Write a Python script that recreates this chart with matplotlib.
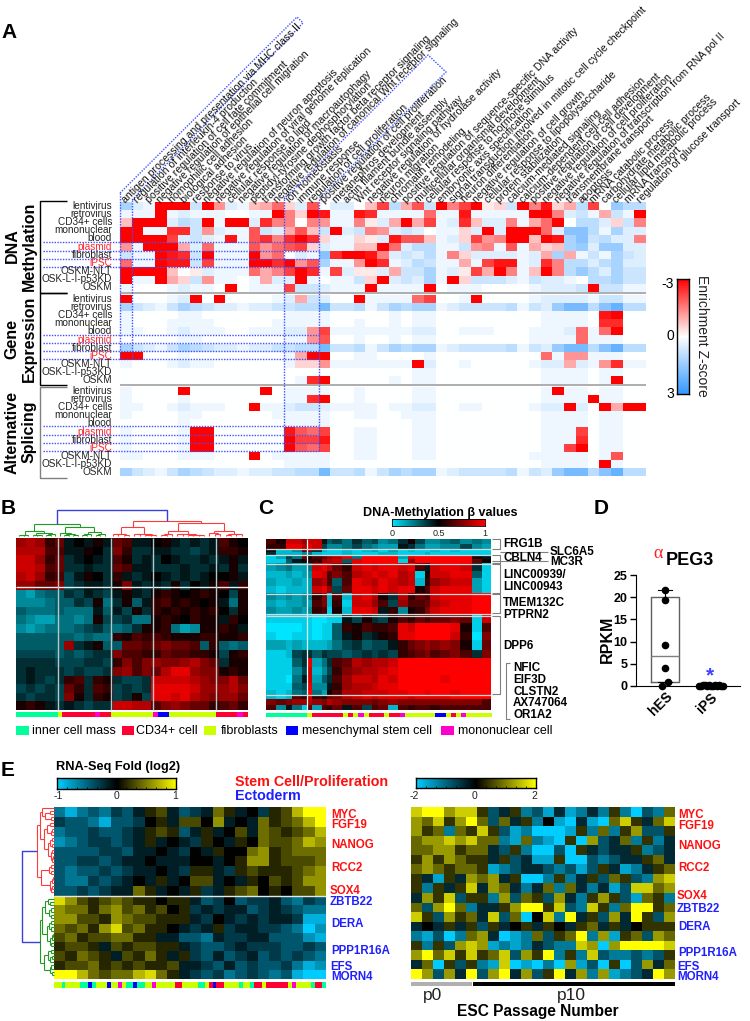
import numpy as np
import matplotlib
matplotlib.use('Agg')
import matplotlib.pyplot as plt
from matplotlib.colors import LinearSegmentedColormap, ListedColormap

plt.rcParams['font.family'] = ['Liberation Sans', 'DejaVu Sans']

W, H = 750, 1021
fig = plt.figure(figsize=(W / 100, H / 100), dpi=100)

# ---------------------------------------------------------------- data
go_terms = ["antigen processing and presentation via MHC class II", "regulation of interleukin-4 production",
            "positive regulation of cell fate commitment", "negative regulation of epithelial cell migration",
            "homophilic cell adhesion", "biological adhesion", "response to virus",
            "negative regulation of neuron apoptosis", "negative regulation of viral genome replication",
            "cellular response to lipid", "negative regulation of macroautophagy",
            "peptidyl-tyrosine dephosphorylation", "transforming growth factor beta receptor signaling",
            "negative regulation of canonical Wnt receptor signaling", "ion homeostasis", "immune response",
            "regulation of cell proliferation", "positive regulation of cell proliferation",
            "metanephros development", "actin filament bundle assembly", "Wnt receptor signaling pathway",
            "negative regulation of hydrolase activity", "neuron migration", "chromatin remodeling",
            "positive regulation of sequence-specific DNA activity", "multicellular organismal development",
            "cellular response to hormone stimulus", "embryonic axis specification",
            "signal transduction involved in mitotic cell cycle checkpoint", "neuron differentiation",
            "negative regulation of cell growth", "cellular response to lipopolysaccharide",
            "protein stabilization", "calcium-mediated signaling", "calcium-dependent cell-cell adhesion",
            "positive regulation of cell development", "negative regulation of cell proliferation",
            "negative regulation of transcription from RNA pol II", "transmembrane transport", "apoptosis",
            "mRNA catabolic process", "carbohydrate metabolic process", "cellular lipid metabolic process",
            "mRNA transport", "regulation of glucose transport"]
row_names = ["lentivirus", "retrovirus", "CD34+ cells", "mononuclear", "blood", "plasmid", "fibroblast",
             "iPSC", "OSKM-NLT", "OSK-L-I-p53KD", "OSKM"]

# enrichment in quarter z-score units: -12 = -3 (red), +12 = +3 (blue)
methylation = [
 [5,2,1,-12,-12,-12,3,-12,-5,2,1,-3,-4,-7,-2,2,-8,0,2,2,0,-3,-9,4,-4,-8,3,-12,-6,-9,-12,-1,-2,3,-12,-6,-11,-2,-4,4,-9,0,6,4,4],
 [1,1,1,-12,1,2,1,1,1,0,0,1,1,-12,-6,-2,-12,-11,1,1,-11,-10,1,1,1,1,-7,1,1,-11,1,1,1,1,1,-12,-12,-6,2,3,1,-4,3,1,-12],
 [-3,-12,-12,-12,2,4,3,-12,1,-12,-12,2,-10,-6,-6,0,-6,-5,1,1,-6,-1,2,-4,-12,-4,-9,1,2,-10,-3,2,2,-6,1,-4,-7,-12,0,4,4,2,-2,3,-6],
 [-12,-12,1,1,-10,-10,3,-5,2,1,1,-8,3,2,-4,-8,-3,3,-12,2,3,-6,-5,2,3,2,0,1,1,-2,2,-12,2,-12,-12,-12,-7,2,7,7,4,1,5,2,2],
 [-12,-12,-12,-12,-9,2,3,2,1,-11,1,-8,-10,-6,-10,-12,-10,-2,1,1,-2,-1,2,-11,-8,-8,-3,1,2,-2,-9,-5,-6,-12,-12,-3,-12,-11,5,7,3,4,2,2,-6],
 [-5,1,-12,-12,-12,-4,2,-7,1,1,1,-8,-5,-7,-8,-9,-2,2,1,1,-3,-3,-12,-7,2,4,4,1,1,3,-5,-6,1,-8,1,-4,-2,-3,5,6,2,6,6,2,2],
 [3,1,1,-12,-11,-10,3,-12,1,1,1,-12,-5,-7,0,2,1,7,-10,-12,-12,-11,-6,2,3,2,4,1,-6,-2,2,2,2,2,1,2,-4,5,-4,1,3,1,5,3,2],
 [-7,1,1,-12,-11,-11,3,-9,1,1,1,-12,-12,-10,-12,-5,-8,5,1,1,-5,-12,-10,1,2,4,3,1,1,-4,1,-9,-11,-11,1,2,-10,-6,4,4,2,4,5,2,2],
 [-12,-12,-12,-12,-3,0,-1,2,1,1,1,-7,-4,-6,-9,-12,-10,1,-9,2,-1,-1,2,-4,3,3,5,1,2,-1,-9,-4,-12,-6,1,-3,-12,-6,4,6,4,2,5,3,3],
 [-12,1,1,-12,-4,-2,3,-5,1,1,0,1,-4,2,2,-12,1,0,1,1,3,-2,-12,2,3,2,5,1,-12,-2,3,3,3,2,1,3,2,2,1,0,4,4,5,3,3],
 [1,0,0,0,1,2,1,1,0,-12,0,1,1,1,-9,3,3,2,1,1,1,-12,1,1,1,1,-12,0,1,1,1,0,0,0,0,1,2,2,2,3,-12,3,3,1,1],
]
expression = [
 [-12,0,0,0,1,2,-12,0,-12,0,0,0,0,1,2,-4,3,2,0,0,-12,1,1,1,1,-7,-9,0,0,1,-12,0,0,0,0,1,2,2,2,2,1,3,3,1,1],
 [5,3,2,1,3,5,4,3,2,2,1,2,2,3,3,4,4,8,3,3,4,1,3,5,4,5,5,1,2,3,3,3,3,4,1,3,2,6,8,8,4,7,9,4,4],
 [1,0,0,0,0,1,1,0,0,0,0,0,0,0,1,1,1,1,0,0,0,0,0,1,0,1,1,0,0,0,0,0,0,0,0,0,1,1,1,1,0,-11,-12,0,0],
 [1,0,0,0,1,1,1,1,0,0,0,0,0,1,1,1,1,1,0,0,1,0,0,1,0,1,1,0,0,0,0,0,0,0,0,0,1,1,1,1,0,-10,-10,0,0],
 [1,1,0,0,1,2,1,1,1,0,0,1,1,1,2,2,-5,-9,1,1,1,1,1,1,1,2,2,0,0,1,1,1,0,0,0,1,1,1,2,-7,1,-7,-12,0,0],
 [0,0,0,0,0,1,1,0,0,0,0,0,0,0,1,1,-5,-8,0,0,1,0,0,1,0,1,1,0,0,0,0,0,0,0,0,1,1,1,1,-7,1,1,1,0,0],
 [5,3,2,1,3,5,4,3,2,2,1,2,2,3,3,4,4,8,3,3,4,1,3,5,4,5,5,1,2,3,3,3,3,4,1,3,2,6,8,8,4,7,9,4,4],
 [-12,-12,0,0,0,1,0,0,0,0,0,0,0,0,1,-4,-12,-12,0,0,1,1,0,0,0,0,1,0,0,0,0,0,0,0,0,0,-7,1,-5,-5,1,1,1,0,0],
 [1,0,0,0,1,2,1,1,0,0,0,0,0,0,1,-2,-2,-5,1,1,1,1,1,1,1,-12,2,0,0,1,0,0,0,0,0,1,2,2,-4,2,1,-5,-10,1,1],
 [0,0,0,0,0,0,0,0,0,0,0,0,0,0,0,0,0,0,0,0,0,0,0,0,0,1,1,0,0,0,0,0,0,0,0,0,1,1,1,1,0,1,1,0,0],
 [0,0,0,0,0,0,0,0,0,0,0,0,0,0,0,1,-10,-12,0,0,0,0,0,1,0,1,1,0,0,0,0,0,0,0,0,0,1,1,1,1,0,1,-12,0,0],
]
splicing = [
 [1,0,0,0,0,-12,0,0,0,0,0,0,-12,0,1,1,1,1,0,0,1,0,0,0,0,1,1,0,0,0,0,0,0,0,0,0,1,-12,1,1,0,1,1,0,0],
 [1,0,0,0,0,1,0,0,0,0,0,0,0,0,1,1,-10,-12,0,0,1,0,0,0,0,1,1,0,0,0,0,0,0,0,0,0,1,1,1,1,-12,1,1,0,0],
 [1,1,0,0,1,2,1,1,1,0,0,-12,1,1,2,3,3,2,1,1,1,1,0,1,1,2,2,0,0,1,1,0,0,0,0,1,2,2,-12,2,0,-12,-4,-12,-12],
 [1,0,0,0,0,1,1,0,0,0,0,0,0,1,1,1,1,1,0,0,1,1,0,0,1,1,1,0,0,0,0,0,0,0,0,0,1,1,1,1,0,1,1,0,0],
 [0,0,0,0,0,1,0,0,0,0,0,0,0,0,1,1,1,1,0,0,0,0,0,0,0,1,1,0,0,0,0,0,0,0,0,0,1,1,1,1,0,1,1,0,0],
 [1,0,0,0,0,1,-12,-12,0,0,0,0,0,0,-11,-8,-7,-9,0,0,1,1,0,0,0,1,1,0,0,0,0,0,0,0,0,0,1,1,1,-9,0,1,1,0,0],
 [1,0,0,0,0,1,-12,-12,0,0,0,0,0,0,-12,-9,-9,-11,0,0,1,1,0,0,0,1,1,0,0,0,0,0,0,0,0,0,1,1,1,-10,0,1,1,0,0],
 [1,0,0,0,0,1,-12,-12,0,0,0,0,0,0,-12,-8,-7,-9,0,0,1,1,0,0,0,1,1,0,0,0,0,0,0,0,0,0,1,1,-9,-12,0,1,1,0,0],
 [1,1,0,0,0,1,1,1,0,0,0,-12,0,1,1,1,1,1,0,0,1,1,0,0,0,1,1,0,0,0,0,0,0,0,0,1,1,1,1,1,0,1,-8,0,0],
 [0,0,0,0,0,0,0,0,0,0,0,0,0,0,1,1,1,1,0,0,0,0,0,0,0,0,0,0,0,0,0,0,0,0,0,0,1,1,1,1,0,-12,1,0,0],
 [5,3,2,1,3,5,4,3,2,2,1,2,2,3,3,4,4,8,3,3,4,1,3,5,4,5,5,1,2,3,3,3,3,4,1,3,2,6,8,8,4,7,9,4,4],
]

# panel B: beta value offset in tenths, -10 = cyan, 0 = black, 10 = red
panel_b = [
 [6,7,6,2,4,-1,0,-1,1,-1,4,3,-1,-1,0,1,-1,-2,-1,-2,-1,3,1,0],
 [7,7,7,3,3,-1,-1,1,0,-2,5,2,-2,-2,-1,-1,-2,-2,-3,-2,-1,2,2,1],
 [8,8,6,2,4,-2,-1,0,-1,-2,3,1,-2,-1,-2,0,-1,-2,-2,-1,-2,-1,1,-1],
 [8,8,7,3,4,-2,-2,-1,-2,-2,4,3,-1,-1,-2,-2,-2,-1,-2,-2,-1,-2,1,-2],
 [7,8,6,2,3,-3,-1,1,0,-2,2,-1,-2,-1,0,-1,-2,-1,-2,-1,0,0,1,-1],
 [6,6,4,4,5,-3,-2,-1,-1,-2,1,5,-1,-2,-1,-2,1,-2,0,-1,1,3,-1,2],
 [-6,-7,-5,-4,-4,-2,-3,-1,-2,-3,-1,1,-1,-2,1,2,1,0,1,2,1,0,-3,1],
 [-6,-6,-6,-5,-4,-4,-2,-3,1,-5,-2,1,-4,-1,2,3,1,2,1,0,1,-1,-5,1],
 [-4,-5,-5,-5,-4,-5,-5,-5,-1,-4,-1,-3,1,-2,2,1,2,1,2,1,2,0,-2,1],
 [-5,-6,-7,-7,-5,-5,-6,-5,1,-3,-3,-2,-5,-5,1,2,1,0,2,1,1,-1,2,0],
 [-6,-7,-6,-5,-5,-5,-4,-3,-2,-4,-5,-4,-2,1,1,2,-5,-7,-6,1,1,2,1,-1],
 [-4,-4,-4,-4,-4,-4,-5,-4,-5,-5,2,1,3,2,3,2,1,1,1,2,2,1,1,2],
 [-4,-4,-4,-4,-4,6,-2,-1,1,-4,-4,4,4,3,4,5,4,4,3,-4,2,-4,-5,-4],
 [-3,-3,-3,-3,-4,-3,-4,-3,-2,-2,5,3,3,2,2,4,3,3,2,2,1,-3,1,2],
 [-2,-2,-2,-2,-3,-3,-3,-2,-2,-3,2,5,3,5,6,5,5,6,7,5,4,-2,1,1],
 [-2,-1,-2,-2,-2,-3,-2,-3,-3,-2,5,6,3,5,4,7,9,9,6,5,5,1,2,1],
 [-2,-1,-2,-3,-2,2,3,-2,2,1,-2,-3,-3,-2,8,8,8,8,7,6,5,5,7,4],
 [-3,-2,-3,-2,-3,4,2,-2,3,2,-3,-2,-3,-2,9,9,9,9,8,6,6,6,7,5],
 [-2,-3,-2,-2,-3,5,1,-2,2,1,-3,-2,1,-3,9,9,8,9,7,6,5,6,6,4],
 [1,2,1,-1,-2,-1,-2,-3,-2,-2,8,8,7,7,3,5,6,5,4,4,2,3,4,2],
]

# panel C: same scale
panel_c = [
 [3,1,8,8,6,8,8,-1,-4,-3,-5,-2,-4,-3,-6,-5,-2,1,-3,-6,-6,-5,-4,-6,-5,-6],
 [2,2,9,9,7,9,8,-3,-6,-6,-5,-3,-5,-6,-7,-7,-1,-2,-5,-7,-7,-6,-6,-3,-6,-7],
 [-1,-8,-8,-6,4,5,-2,-8,-9,-9,-8,-9,-8,-7,-9,-7,-9,-8,-9,-9,-8,-9,-8,-9,-9,-9],
 [-2,-8,-8,-8,-6,-5,-8,-9,-9,-9,-8,-9,-9,-9,-8,-8,-9,-9,-9,-8,-9,-9,-9,-9,-9,-9],
 [-9,-7,-3,-5,4,1,3,4,6,7,9,-5,10,10,10,10,-7,9,10,10,10,10,10,10,1,-1],
 [-9,-9,-4,-1,1,2,2,6,7,8,-4,9,10,10,10,10,-9,6,10,10,10,10,10,10,4,1],
 [-7,-6,-5,-7,-7,-5,8,9,7,4,2,8,9,8,9,9,8,9,3,-1,8,9,9,8,-2,-9],
 [-8,-8,-7,-8,-7,-6,9,8,3,5,3,7,8,9,8,9,7,8,-9,1,8,8,9,9,-4,-9],
 [-7,-8,-8,-7,-8,-7,6,7,3,-4,3,9,8,7,9,8,7,8,-8,2,6,7,8,8,-7,-9],
 [-8,-9,-8,-8,-8,-7,8,9,6,-3,4,9,9,8,9,8,9,9,1,3,8,9,9,9,-7,-9],
 [-6,-7,-6,-7,-6,-6,2,5,-8,3,-8,8,9,7,1,-2,7,2,4,3,8,9,9,9,10,10],
 [-7,-8,-7,-7,-6,-7,3,5,-8,2,-9,8,8,6,3,-3,6,3,3,4,7,8,9,9,10,10],
 [-6,-7,-7,-6,-7,-6,2,3,-9,1,-8,9,9,8,-1,2,-6,1,2,5,8,9,9,9,10,10],
 [-9,-9,-9,-9,-9,-9,-10,-10,-9,-9,-1,-3,1,-2,-3,1,3,2,4,3,4,4,5,4,-9,8],
 [-10,-10,-10,-10,-9,-9,-10,-9,-9,-4,2,1,3,2,2,3,9,8,10,10,10,10,9,1,-9,3],
 [-9,-10,-10,-9,-9,-9,-10,-9,-9,-4,-1,1,-2,-1,1,2,9,9,10,10,10,10,8,2,-10,5],
 [-7,-7,-8,-7,-8,-8,-8,-8,-7,-5,-3,-2,-4,-3,-3,-1,2,4,5,6,5,6,5,1,-9,4],
 [-9,-9,-8,-3,-2,-2,-4,-2,-3,-3,-4,-3,-2,-3,-2,-3,2,3,4,5,3,4,5,3,-2,5],
 [-9,-9,-9,-4,-2,9,-7,-5,-2,3,4,7,6,7,7,8,10,10,10,10,10,10,10,10,10,10],
 [-9,-9,-9,-6,-3,8,-8,-6,-3,2,5,6,7,7,8,9,10,10,10,10,10,10,10,10,10,10],
 [-9,-9,-10,-5,-1,8,-7,-4,-2,3,6,8,8,7,9,8,10,10,10,10,10,9,10,10,10,10],
 [-9,-9,-9,-4,-3,9,-6,-6,-1,2,6,7,7,8,9,9,10,10,10,10,10,10,10,10,10,10],
 [-8,-9,-8,-5,-4,10,-5,-7,1,3,7,7,8,8,8,9,9,10,10,9,10,10,9,10,10,10],
 [-8,-9,-8,3,2,8,2,1,4,5,7,8,9,8,9,9,9,8,9,9,9,9,10,10,10,10],
 [5,4,5,6,6,7,6,5,7,6,5,5,5,4,5,6,5,5,5,5,5,5,5,5,5,3],
 [3,-6,-1,-5,-9,4,-7,3,2,4,-1,3,-3,3,4,-8,3,2,3,3,2,3,3,3,3,3],
 [5,3,4,-3,-2,5,4,5,-1,4,4,1,4,3,2,4,3,4,4,3,4,4,3,4,4,4],
]

# panel E left: fold in sevenths, -7 = cyan, 0 = black, 7 = yellow
panel_e1 = [
 [-4,-6,-4,-3,-4,-2,-3,-1,1,2,-1,-3,-2,-1,3,1,-1,0,-2,1,2,5,7,7],
 [-2,-3,-3,-4,-6,-3,-3,-2,0,1,-1,2,2,0,4,-1,0,-1,3,1,2,3,5,7],
 [-4,-3,-3,-2,-3,-3,-2,-1,1,2,1,-3,-1,1,-1,0,2,-1,3,2,1,2,3,5],
 [-5,-4,-3,-2,-2,-3,-2,-1,1,-1,0,-1,-2,1,0,-1,1,0,3,2,2,3,5,4],
 [-3,-3,-3,-3,-2,-2,-3,-1,-1,0,-1,-2,0,-1,1,0,0,3,4,1,2,3,3,3],
 [-3,-3,-2,-2,-3,-2,-1,-1,0,-1,-1,-1,0,0,-1,0,1,4,4,1,2,2,2,3],
 [-3,-4,-3,-3,-2,-3,-2,-1,-1,0,-1,-2,1,1,-1,-2,1,2,1,1,1,2,3,4],
 [-3,-4,-4,-2,-3,-2,-1,0,-1,1,-1,0,2,2,-1,0,-1,1,0,2,1,2,4,4],
 [-3,-3,-2,-3,-2,-1,-1,3,1,-1,0,-1,1,-2,-1,1,2,3,0,1,0,2,2,4],
 [6,4,2,1,2,3,2,1,1,0,1,1,-1,-3,-2,0,-3,-2,-2,-1,-3,-4,-2,-3],
 [4,3,3,1,3,4,2,3,1,2,0,1,-2,-1,-2,-1,-1,-3,-2,-1,-2,-3,-4,-4],
 [4,4,2,2,1,4,3,2,2,1,1,1,-1,-2,0,-1,-2,-1,-2,-1,-1,-2,-6,-6],
 [3,2,3,1,4,6,2,3,1,1,0,-1,-2,-1,1,-2,-1,-1,-2,-2,-3,-4,-7,-5],
 [2,3,1,2,2,3,3,1,1,-1,-1,-3,-3,-4,-1,-2,-2,-1,-1,-3,-3,-3,-5,-6],
 [1,2,2,1,-1,2,1,2,2,1,1,-1,-2,-3,-3,-2,-1,-2,-2,-2,-3,-3,-2,-3],
 [2,1,3,2,1,-1,2,1,3,1,-1,1,-2,-3,-1,-3,-2,-1,-3,-2,-3,-2,-3,-4],
 [1,2,2,3,1,2,1,2,1,1,2,-1,-1,-2,-3,-1,-3,-2,-3,-3,-2,-4,-6,-5],
 [7,7,5,3,2,3,3,5,6,3,1,-1,-2,-3,-2,-4,-3,-2,-3,-4,-3,-6,-7,-7],
]
# panel E right: fold in fifths, -5 = cyan, 0 = black, 5 = yellow
panel_e2 = [
 [4,5,5,3,4,4,1,-2,-1,1,-3,-2,-4,-1,-4,-3,-1,-3,1,-3,-5,-2,-3,2],
 [3,2,4,1,3,5,2,-2,2,-1,1,-3,0,-4,-5,-1,-4,-5,2,4,1,-1,2,4],
 [3,1,2,-3,2,1,4,1,-2,-4,-3,-5,-5,-5,-4,1,-3,2,-3,1,3,-2,-2,1],
 [2,3,3,4,3,4,2,2,-3,-4,2,-3,-4,-5,1,-5,3,-2,-1,2,-3,1,-3,-1],
 [2,2,3,3,1,2,2,-1,-2,1,-3,-5,-5,-2,-5,1,-1,-2,-1,-1,1,-3,-2,-1],
 [1,3,1,3,2,1,1,-1,1,-2,-1,-4,-4,1,-5,-5,-2,-3,-2,-1,-1,1,2,-1],
 [2,3,2,1,2,2,1,-4,-3,-2,-1,-1,-2,-3,-2,-4,-2,1,-1,-4,-3,-1,1,2],
 [1,-1,-4,1,-1,3,2,3,-1,1,-5,-5,-3,1,-3,-1,1,-2,2,1,-2,-3,3,4],
 [1,-3,1,-1,1,4,-1,3,2,-1,-3,-1,2,-3,2,-1,-3,-1,-4,-2,4,4,2,3],
 [-1,3,1,4,-2,1,1,-3,3,-2,2,1,-2,3,-1,-3,1,3,1,-2,-4,2,1,-3],
 [2,-2,3,5,2,-3,-1,-1,1,3,5,5,1,4,-2,-3,4,1,-3,2,5,5,1,2],
 [4,1,-2,3,1,2,-1,4,-2,2,-5,0,4,-3,5,-1,1,-2,3,-1,5,1,-2,3],
 [-1,0,-1,1,-1,1,-2,1,-1,0,1,-1,1,0,-1,1,2,-1,1,-1,0,1,1,1],
 [-3,-4,-2,-5,-3,2,3,-1,-5,-4,-3,2,-2,1,2,5,-3,3,-4,1,2,-2,3,2],
 [1,-3,1,-2,3,4,3,-4,-3,-4,-3,-1,-2,-3,-3,4,3,-5,3,5,5,5,5,4],
 [3,5,2,4,1,4,1,2,4,-2,3,1,5,-3,1,-3,4,-2,-3,-3,-2,-3,-2,1],
 [-1,2,-5,1,-2,1,-3,-4,4,-5,-4,-5,-3,-5,3,-4,-2,-5,1,-5,-2,3,-1,2],
 [5,3,-2,3,-1,5,-2,3,5,-1,3,-2,1,5,-1,3,-3,3,-4,-3,-2,-1,5,3],
]

# column annotation colour classes and run lengths
cell_colors = {'icm': '#00ff99', 'cd34': '#ff0033', 'fib': '#ccff00', 'msc': '#0000ff', 'mono': '#ff00cc'}
cell_names = ['inner cell mass', 'CD34+ cell', 'fibroblasts', 'mesenchymal stem cell', 'mononuclear cell']
strip_b_cats = ['icm','fib','cd34','mono','cd34','fib','mono','msc','fib','cd34','mono','cd34']
strip_b_runs = [42,4,33,5,11,41,5,11,47,21,6,5]
strip_c_cats = ['icm','fib','cd34','fib','cd34','fib','mono','fib','cd34','fib','cd34','mono','fib','msc','fib','cd34','fib','mono','fib']
strip_c_runs = [8,1,6,1,1,1,1,1,3,1,2,1,6,2,1,1,1,1,5]
strip_e_cats = ['fib','icm','fib','icm','msc','icm','fib','msc','fib','mono','fib','icm','msc','icm','fib','mono','fib','cd34','fib','icm','fib','cd34','msc','cd34','fib','icm','fib','icm','cd34','fib','cd34','fib','mono','fib','icm','cd34','icm']
strip_e_runs = [2,1,4,2,1,1,3,1,2,1,1,2,1,2,2,1,5,2,4,2,1,1,1,2,4,1,2,1,2,1,6,1,1,4,1,2,1]

# dendrograms: [height, child, child], 0 is a leaf
dend_b_green = [36, [16, [4, [2, 0, 0], 0], [8, [4, 0, [2, 0, 0]], [5, [3, 0, 0], 0]]],
                [28, [9, 0, [7, [3, 0, 0], [4, 0, 0]]], [12, [6, [3, 0, 0], 0], [6, [3, 0, 0], 0]]]]
dend_b_red = [46, [28, [6, [5, 0, 0], [3, 0, 0]], [7, [5, 0, 0], [4, [3, 0, 0], 0]]],
              [40, [15, [6, [4, 0, 0], 0], [7, [5, 0, 0], [4, [3, 0, 0], [3, 0, 0]]]],
               [14, [8, 0, [5, 0, 0]], [6, [4, 0, 0], [5, 0, 0]]]]]
dend_e_red = [34, [28, [24, 0, [18, [8, 0, 0], [6, 0, 0]]], [20, [14, [8, 0, 0], [6, [4, 0, 0], 0]],
               [12, [8, [4, 0, 0], [4, 0, 0]], [6, [4, 0, 0], [4, [3, 0, 0], 0]]]]],
              [26, [10, [6, 0, 0], [6, 0, 0]], [8, [5, [3, 0, 0], 0], [6, [4, 0, 0], 0]]]]
dend_e_green = [28, [24, [18, [12, 0, [8, 0, 0]], [10, [6, 0, 0], [6, 0, 0]]],
                 [14, [10, [6, 0, 0], [6, 0, 0]], [8, [5, [3, 0, 0], 0], [6, 0, 0]]]],
                [20, [12, [6, 0, 0], [8, [4, 0, 0], 0]], [8, [6, 0, 0], [5, 0, 0]]]]

# panel D
peg3_hes_points = [21.6, 19.3, 9.2, 4.0, 1.0, 0.0]
peg3_hes_box = dict(med=6.7, q1=0.8, q3=20.0, whislo=0.8, whishi=21.6, fliers=[])
peg3_ips_points = [0.0, 0.1, 0.2, 0.3, 0.1, 0.2, 0.0, 0.1, 0.2, 0.1, 0.3, 0.0, 0.1]
peg3_ips_box = dict(med=0.2, q1=0.0, q3=0.4, whislo=0.0, whishi=0.7, fliers=[])
peg3_labels = ['hES', 'iPS']
peg3_ticks = [0, 5, 10, 15, 20, 25]

genes_c = [("FRG1B", 503, 544), ("CBLN4", 503, 558), ("LINC00939/", 503, 575), ("LINC00943", 503, 587),
           ("TMEM132C", 503, 603), ("PTPRN2", 503, 615), ("DPP6", 503, 646), ("NFIC", 513, 668),
           ("EIF3D", 513, 680), ("CLSTN2", 513, 692), ("AX747064", 513, 703), ("OR1A2", 513, 715),
           ("SLC6A5", 550, 552), ("MC3R", 550, 562)]
genes_e_left = [("MYC", 331, 815, 'r'), ("FGF19", 331, 825, 'r'), ("NANOG", 331, 845, 'r'), ("RCC2", 331, 868, 'r'),
                ("SOX4", 330, 891, 'r'), ("ZBTB22", 330, 902, 'b'), ("DERA", 331, 924, 'b'),
                ("PPP1R16A", 331, 951, 'b'), ("EFS", 330, 967, 'b'), ("MORN4", 331, 977, 'b')]
genes_e_right = [("MYC", 678, 815, 'r'), ("FGF19", 678, 826, 'r'), ("NANOG", 678, 846, 'r'), ("RCC2", 678, 868, 'r'),
                 ("SOX4", 677, 896, 'r'), ("ZBTB22", 677, 909, 'b'), ("DERA", 678, 927, 'b'),
                 ("PPP1R16A", 678, 953, 'b'), ("EFS", 677, 967, 'b'), ("MORN4", 677, 977, 'b')]

# ---------------------------------------------------------------- helpers
def px_axes(x0, y0, x1, y1, **kw):
    return fig.add_axes([x0 / W, 1 - y1 / H, (x1 - x0) / W, (y1 - y0) / H], **kw)

ov = px_axes(0, 0, W, H, zorder=20)
ov.set_xlim(0, W); ov.set_ylim(H, 0); ov.axis('off'); ov.patch.set_alpha(0)

def T(x, y, s, fs=7, color='black', weight='normal', ha='left', va='center', rot=0, **kw):
    ov.text(x, y, s, fontsize=fs, color=color, fontweight=weight, ha=ha, va=va, rotation=rot,
            rotation_mode='anchor', **kw)

def L(xs, ys, color='black', lw=0.8, ls='-'):
    ov.plot(xs, ys, color=color, lw=lw, ls=ls, solid_capstyle='butt')

def heat(box, M, cmap, vmin, vmax, xe=None, ye=None):
    ax = px_axes(*box)
    M = np.asarray(M, float)
    xe = np.linspace(box[0], box[2], M.shape[1] + 1) if xe is None else xe
    ye = np.linspace(box[1], box[3], M.shape[0] + 1) if ye is None else ye
    ax.pcolormesh(xe, ye, M, cmap=cmap, vmin=vmin, vmax=vmax, edgecolors='none', antialiased=False)
    ax.set_xlim(box[0], box[2]); ax.set_ylim(box[3], box[1]); ax.axis('off')
    return ax

def strip(box, cats, runs):
    ax = px_axes(*box)
    keys = list(cell_colors)
    codes = np.repeat([keys.index(c) for c in cats], runs)[None, :]
    ax.imshow(codes, aspect='auto', interpolation='nearest', vmin=0, vmax=len(keys) - 1,
              cmap=ListedColormap([cell_colors[k] for k in keys]))
    ax.axis('off')

def cbar(box, cmap, vertical=False, ticks=None, lw=1.0):
    ax = px_axes(*box)
    g = np.linspace(0, 1, 256)
    ax.imshow(g[:, None] if vertical else g[None, :], cmap=cmap, aspect='auto', vmin=0, vmax=1, extent=[0, 1, 1, 0])
    ax.set_xticks(ticks if ticks is not None else []); ax.set_yticks([])
    ax.tick_params(axis='x', direction='in', length=1.5, width=0.6, labelbottom=False, bottom=True)
    for s in ax.spines.values():
        s.set_linewidth(lw)

def count_leaves(n):
    return 1 if n == 0 else sum(count_leaves(c) for c in n[1:])

def dendro(node, pos, start, step, base, scale, color, horizontal=True):
    """Draw a nested tree; leaves sit along `base`, heights grow by scale. Returns the centre and height."""
    if node == 0:
        c = start + step * pos[0]
        pos[0] += 1
        return c, 0
    h = node[0]
    kids = [dendro(c, pos, start, step, base, scale, color, horizontal) for c in node[1:]]
    a, b = kids[0][0], kids[-1][0]
    for c, ch in kids:
        if horizontal:
            L([c, c], [base - scale * ch, base - scale * h], color, 0.8)
        else:
            L([base - scale * ch, base - scale * h], [c, c], color, 0.8)
    if horizontal:
        L([a, b], [base - scale * h, base - scale * h], color, 0.8)
    else:
        L([base - scale * h, base - scale * h], [a, b], color, 0.8)
    return (a + b) / 2, h

# ---------------------------------------------------------------- panel A
cm_a = LinearSegmentedColormap.from_list('a', ['#ff0000', '#ffffff', '#3399ff'])
ax_x0, ax_x1 = 120, 646
heat((ax_x0, 202, ax_x1, 292), methylation, cm_a, -12, 12)
heat((ax_x0, 295, ax_x1, 384), expression, cm_a, -12, 12)
heat((ax_x0, 387, ax_x1, 476), splicing, cm_a, -12, 12)
L([ax_x0, ax_x1], [293.5, 293.5], '#a0a0a0', 1.2)
L([ax_x0, ax_x1], [385.3, 385.3], '#a0a0a0', 1.2)

step = (ax_x1 - ax_x0) / len(go_terms)
for i, t in enumerate(go_terms):
    T(ax_x0 + step * (i + 0.5) - 2, 201, t, fs=7.6, rot=45, color='#111111', va='center')

red_label = '#ff2a2a'
for y0 in (202, 295, 387):
    for i, n in enumerate(row_names):
        T(112, y0 + 8.1 * (i + 0.5), n, fs=7.2, ha='right', color=red_label if n in ('plasmid', 'iPSC') else '#222222')

for (y0, y1, c) in ((201, 293, 'black'), (293, 385, 'black'), (386.5, 478, '#808080')):
    L([67, 39.5, 39.5, 67], [y0, y0, y1, y1], c, 1.0)
T(12, 246, 'DNA', fs=11.5, weight='bold', ha='center', rot=90)
T(29, 246, 'Methylation', fs=11.5, weight='bold', ha='center', rot=90)
T(12, 339, 'Gene', fs=11.5, weight='bold', ha='center', rot=90)
T(29, 339, 'Expression', fs=11.5, weight='bold', ha='center', rot=90)
T(12, 432, 'Alternative', fs=11.5, weight='bold', ha='center', rot=90)
T(29, 432, 'Splicing', fs=11.5, weight='bold', ha='center', rot=90)

blue_d = '#4050ff'
dot = (0, (1, 1))
for ys in ((242.3, 251, 259, 267.3), (335, 343, 351, 359.3), (426.3, 434.7, 442.7, 451)):
    for y in ys:
        L([43, 319], [y, y], blue_d, 1.0, dot)
L([120, 120], [193, 359], blue_d, 1.0, dot)
L([132, 132], [200, 359], blue_d, 1.0, dot)
L([284, 284], [199, 451], blue_d, 1.0, dot)
L([319, 319], [199, 451], blue_d, 1.0, dot)
L([120, 297, 303, 132], [193, 17, 23, 200], blue_d, 1.0, dot)
L([284, 428, 446, 319], [199, 55, 72, 199], blue_d, 1.0, dot)

cbar((677, 279, 689, 394), cm_a, vertical=True)
T(674, 284, '-3', fs=10, ha='right')
T(674, 336, '0', fs=10, ha='right')
T(674, 394, '3', fs=10, ha='right')
T(702, 336, 'Enrichment Z-score', fs=10, ha='center', rot=270, color='#222222')

T(1, 33, 'A', fs=15, weight='bold')
T(1, 508, 'B', fs=15, weight='bold')
T(258, 508, 'C', fs=15, weight='bold')
T(594, 508, 'D', fs=15, weight='bold')
T(1, 770, 'E', fs=15, weight='bold')

# ---------------------------------------------------------------- panel B
cm_m = LinearSegmentedColormap.from_list('m', ['#00e5ff', '#000000', '#ff0000'])
heat((16, 538, 248, 710), panel_b, cm_m, -10, 10)
L([16, 248], [586.5, 586.5], '#e8f0f0', 1.0)
for x in (58, 111, 153, 216):
    L([x, x], [538, 710], '#b8c8c8', 1.0)
strip((16, 712, 248, 717), strip_b_cats, strip_b_runs)

n_g = count_leaves(dend_b_green)
n_r = count_leaves(dend_b_red)
xg, hg = dendro(dend_b_green, [0], 19, 90 / n_g, 536, 1 / 3, '#229922')
xr, hr = dendro(dend_b_red, [0], 113, 134 / n_r, 536, 1 / 3, '#ff3a3a')
root_y = 510
L([xg, xg, xr, xr], [536 - hg / 3, root_y, root_y, 536 - hr / 3], '#3a40e0', 1.0)

legend_x = [(16, 29, 32), (122, 134, 136), (204, 216, 221), (286, 298, 302), (441, 454, 458)]
for (a, b, tx), k, n in zip(legend_x, cell_colors, cell_names):
    ov.fill([a, b, b, a], [726, 726, 735, 735], color=cell_colors[k], lw=0)
    T(tx, 730.5, n, fs=9)

# ---------------------------------------------------------------- panel C
c_xe = 255 + np.array([32,62,93,110,140,155,170,200,215,232,262,290,320,350,370,400,430,460,480,510,525,555,585,615,650,680,708]) / 3
c_ye = 490 + np.array([148,163,178,187,195,207,220,242,265,288,310,330,350,373,400,425,450,480,505,530,555,580,600,615,627,644,660,661]) / 3
heat((265.7, 539, 491, 710.3), panel_c, cm_m, -10, 10, xe=c_xe, ye=c_ye)
L([307, 307], [539, 710], '#e0ffff', 0.9)
for y in (549.3, 555, 563.5, 593.5, 613.5, 615.5, 695):
    L([265.7, 491], [y, y], '#d8d8d8', 0.9)
strip((265.7, 712.7, 491, 717), strip_c_cats, strip_c_runs)
cbar((392, 519, 485, 526), cm_m, lw=0.6)
T(392, 533, '0', fs=6.5, ha='center', color='#222222')
T(438.5, 533, '0.5', fs=6.5, ha='center', color='#222222')
T(485, 533, '1', fs=6.5, ha='center', color='#222222')
T(440, 513, 'DNA-Methylation β values', fs=9, weight='bold', ha='center')
for g, x, y in genes_c:
    T(x, y, g, fs=8.4, weight='bold')
grey = '#808080'
for a, b in ((539, 549), (555, 563), (564, 593), (594, 613), (616, 694)):
    L([492, 500, 500, 492], [a, a, b, b], grey, 0.8)
L([500, 548], [552, 552], grey, 0.8)
L([492, 548], [561, 561], grey, 0.8)
L([510, 506, 506, 510], [663, 663, 719, 719], grey, 0.8)

# ---------------------------------------------------------------- panel D
axd = px_axes(636, 575, 740, 686)
axd.set_ylim(0, 25); axd.set_xlim(0.37, 2.63)
stats = [dict(peg3_hes_box, label=peg3_labels[0]), dict(peg3_ips_box, label=peg3_labels[1])]
axd.bxp(stats, positions=[1, 2], widths=0.59, patch_artist=False,
        boxprops=dict(color='#606060', lw=1), medianprops=dict(color='#808080', lw=1),
        whiskerprops=dict(color='black', lw=0.8), capprops=dict(color='black', lw=0.8), capwidths=0.3)
axd.scatter([1, 1, 1, 1, 1.06, 0.94], peg3_hes_points, s=20, color='black', zorder=5, clip_on=False)
axd.scatter(np.linspace(1.74, 2.26, len(peg3_ips_points)), peg3_ips_points, s=20, color='black', zorder=5, clip_on=False)
axd.set_yticks(peg3_ticks)
axd.set_yticklabels([str(v) for v in peg3_ticks], fontsize=9, fontweight='bold')
axd.set_xticks([])
axd.tick_params(axis='y', length=4, width=1, pad=2)
axd.spines['top'].set_visible(False); axd.spines['right'].set_visible(False)
axd.patch.set_alpha(0)
T(607, 639, 'RPKM', fs=11.5, weight='bold', ha='center', rot=90)
T(651, 713, peg3_labels[0], fs=10, weight='bold', rot=45, ha='left')
T(699, 711, peg3_labels[1], fs=10, weight='bold', rot=45, ha='left')
T(710, 676, '*', fs=15, color='#4040ff', weight='bold', ha='center')
T(653, 553, 'α', fs=13, color='#ff2020', family='Liberation Serif')
T(666, 560, 'PEG3', fs=13, weight='bold')

# ---------------------------------------------------------------- panel E
cm_e = LinearSegmentedColormap.from_list('e', ['#00ccff', '#000000', '#ffff00'])
e_ye = np.r_[np.linspace(807, 896, 10), np.linspace(896, 979, 10)[1:]]
heat((54, 807, 326, 979), panel_e1, cm_e, -7, 7, ye=e_ye)
L([54, 326], [896, 896], '#e8e8e8', 1.0)
heat((411, 807, 675, 979), panel_e2, cm_e, -5, 5)
strip((54, 982, 326, 988), strip_e_cats, strip_e_runs)
ov.fill([411, 472, 472, 411], [982, 982, 986, 986], color='#b0b0b0', lw=0)
ov.fill([473, 675, 675, 473], [982, 982, 986, 986], color='black', lw=0)

e_ticks = np.linspace(0, 1, 13)[1:-1]
cbar((57, 778, 176, 789), cm_e, ticks=e_ticks)
cbar((416, 778, 536, 788), cm_e, ticks=e_ticks)
for x, s in ((58, '-1'), (116, '0'), (175, '1')):
    T(x, 796, s, fs=7.5, ha='center', color='#222222')
for x, s in ((414, '-2'), (475, '0'), (534, '2')):
    T(x, 796, s, fs=7.5, ha='center', color='#222222')
T(56, 767, 'RNA-Seq Fold (log2)', fs=9.2, weight='bold')
T(235, 782, 'Stem Cell/Proliferation', fs=10.3, weight='bold', color='#ff1010')
T(235, 795.5, 'Ectoderm', fs=10.3, weight='bold', color='#2020ff')
gc = {'r': '#ff1010', 'b': '#2020ff'}
for g, x, y, c in genes_e_left + genes_e_right:
    T(x, y, g, fs=8.3, weight='bold', color=gc[c])
T(423, 995, 'p0', fs=12.5, color='#222222')
T(557, 995, 'p10', fs=12.5, color='#222222')
T(457, 1011, 'ESC Passage Number', fs=11.2, weight='bold')

yr, he_r = dendro(dend_e_red, [0], 808, 87 / count_leaves(dend_e_red), 54, 0.5, '#ff3a3a', horizontal=False)
yg, he_g = dendro(dend_e_green, [0], 899, 79 / count_leaves(dend_e_green), 54, 0.5, '#229922', horizontal=False)
L([54 - he_r * 0.5, 22, 22, 54 - he_g * 0.5], [yr, yr, yg, yg], '#3a40e0', 1.0)

fig.savefig('out.png', dpi=100)
